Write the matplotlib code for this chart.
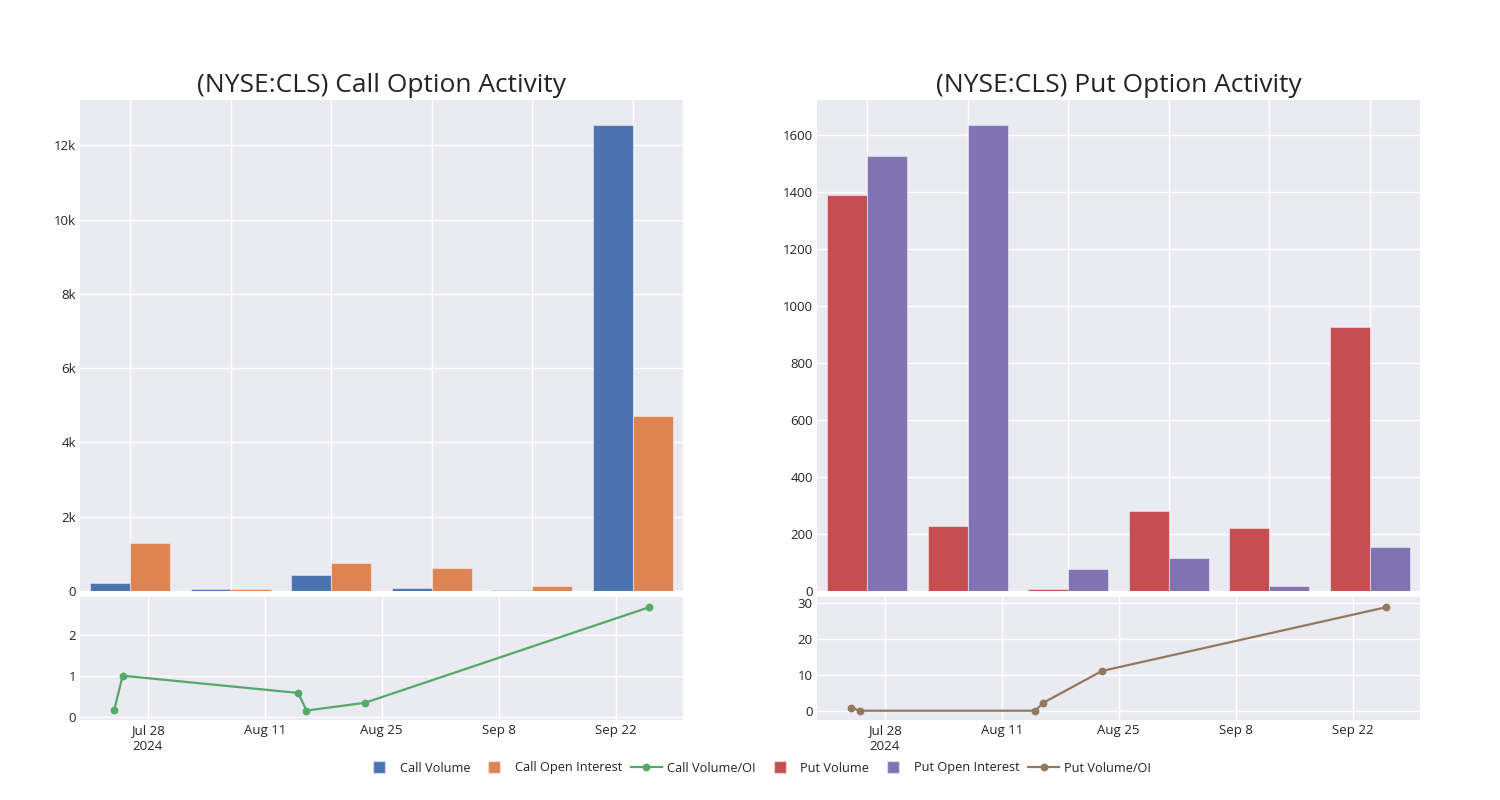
import matplotlib
matplotlib.use('Agg')
import matplotlib.pyplot as plt
from matplotlib.lines import Line2D
from matplotlib.ticker import FuncFormatter
import numpy as np
import pandas as pd

# ---------------- data ----------------
dates = ['2024-07-24', '2024-07-25', '2024-08-15', '2024-08-16', '2024-08-23', '2024-09-26']
call_volume = [216, 50, 440, 81, 27, 12556]
call_open_interest = [1294, 50, 764, 620, 125, 4700]
call_vol_oi = [0.17, 1.0, 0.58, 0.15, 0.34, 2.67]
put_volume = [1389, 228, 7, 280, 220, 927]
put_open_interest = [1526, 1637, 76, 117, 18, 155]
put_vol_oi = [0.84, 0.0, 0.0, 2.24, 11.1, 28.9]

tick_dates = ['2024-07-28', '2024-08-11', '2024-08-25', '2024-09-08', '2024-09-22']
tick_labels = ['Jul 28\n2024', 'Aug 11', 'Aug 25', 'Sep 8', 'Sep 22']
call_yticks = [0, 2000, 4000, 6000, 8000, 10000, 12000]
put_yticks = [0, 200, 400, 600, 800, 1000, 1200, 1400, 1600]
call_ratio_ticks = [0, 1, 2]
put_ratio_ticks = [0, 10, 20, 30]

titles = ['(NYSE:CLS) Call Option Activity', '(NYSE:CLS) Put Option Activity']
legend_labels = ['Call Volume', 'Call Open Interest', 'Call Volume/OI',
                 'Put Volume', 'Put Open Interest', 'Put Volume/OI']

# ---------------- style ----------------
plt.rcParams['font.family'] = ['Open Sans', 'DejaVu Sans']
BG = '#EAEAF2'
TXT = '#242424'
BLUE, ORANGE, GREEN = '#4C72B0', '#DD8452', '#55A868'
RED, PURPLE, BROWN = '#C44E52', '#8172B3', '#937860'
EDGE = (1, 1, 1, 0.45)

fig = plt.figure(figsize=(15, 8), dpi=100)


def style(ax):
    ax.set_facecolor(BG)
    for s in ax.spines.values():
        s.set_visible(False)
    ax.grid(True, color='white', linewidth=1.0)
    ax.set_axisbelow(True)
    ax.tick_params(length=0, labelsize=9.5, colors=TXT, pad=3)


left_x = [80 / 1500, 817 / 1500]
W = 603 / 1500
top_rect_y, top_h = (800 - 591) / 800, 491 / 800
bot_rect_y, bot_h = 80 / 800, 123 / 800

x = np.arange(len(dates))
dts = pd.to_datetime(dates)
base = pd.Timestamp('2024-07-28')
xlim_dates = (base - pd.Timedelta(days=8.1), base + pd.Timedelta(days=64.05))

panels = [
    dict(vol=call_volume, oi=call_open_interest, ratio=call_vol_oi,
         c1=BLUE, c2=ORANGE, c3=GREEN, yt=call_yticks, ymax=13222,
         fmt=lambda v, p: '0' if v == 0 else f'{int(v / 1000)}k',
         rt=call_ratio_ticks, rlim=(-0.08, 2.92)),
    dict(vol=put_volume, oi=put_open_interest, ratio=put_vol_oi,
         c1=RED, c2=PURPLE, c3=BROWN, yt=put_yticks, ymax=1724,
         fmt=lambda v, p: f'{int(v)}',
         rt=put_ratio_ticks, rlim=(-2.6, 31.76)),
]

for i, pdict in enumerate(panels):
    ax = fig.add_axes([left_x[i], top_rect_y, W, top_h])
    style(ax)
    ax.bar(x - 0.2, pdict['vol'], 0.4, color=pdict['c1'], edgecolor=EDGE, linewidth=0.8)
    ax.bar(x + 0.2, pdict['oi'], 0.4, color=pdict['c2'], edgecolor=EDGE, linewidth=0.8)
    ax.set_xlim(-0.5, 5.5)
    ax.set_xticks(x)
    ax.set_xticklabels([])
    ax.set_ylim(0, pdict['ymax'])
    ax.set_yticks(pdict['yt'])
    ax.yaxis.set_major_formatter(FuncFormatter(pdict['fmt']))
    ax.text(0.5, 1 + 14 / 491, titles[i], transform=ax.transAxes,
            ha='center', va='center', fontsize=19, color=TXT)

    ax2 = fig.add_axes([left_x[i], bot_rect_y, W, bot_h])
    style(ax2)
    ax2.plot(dts, pdict['ratio'], color=pdict['c3'], linewidth=1.6,
             marker='o', markersize=4.6)
    ax2.set_xlim(*xlim_dates)
    ax2.set_xticks(pd.to_datetime(tick_dates))
    ax2.set_xticklabels(tick_labels, linespacing=1.3)
    ax2.set_ylim(*pdict['rlim'])
    ax2.set_yticks(pdict['rt'])

handles = [
    Line2D([], [], marker='s', linestyle='none', markersize=8.6, color=BLUE, markeredgecolor=EDGE),
    Line2D([], [], marker='s', linestyle='none', markersize=8.6, color=ORANGE, markeredgecolor=EDGE),
    Line2D([], [], marker='o', color=GREEN, linewidth=1.6, markersize=4.6),
    Line2D([], [], marker='s', linestyle='none', markersize=8.6, color=RED, markeredgecolor=EDGE),
    Line2D([], [], marker='s', linestyle='none', markersize=8.6, color=PURPLE, markeredgecolor=EDGE),
    Line2D([], [], marker='o', color=BROWN, linewidth=1.6, markersize=4.6),
]
leg = fig.legend(handles, legend_labels, loc='center', bbox_to_anchor=(0.505, 0.04),
                 ncol=6, frameon=False, fontsize=9.2, handlelength=2.4,
                 handletextpad=0.4, columnspacing=0.7, labelcolor=TXT)

fig.savefig('out.png', dpi=100, facecolor='white')
